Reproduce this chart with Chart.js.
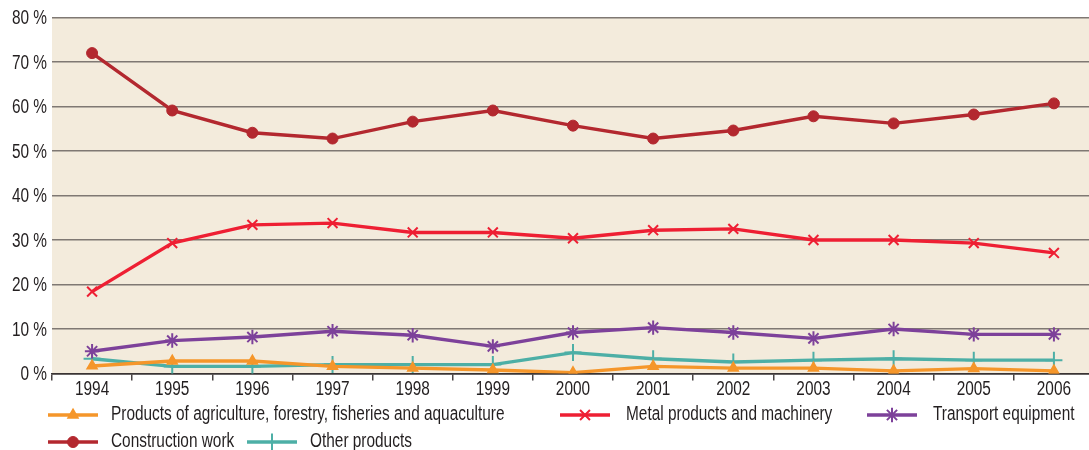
<!DOCTYPE html>
<html>
<head>
<meta charset="utf-8">
<script src="https://cdn.jsdelivr.net/npm/chart.js@4/dist/chart.umd.min.js"></script>
<style>
  html, body { margin: 0; padding: 0; background: #ffffff; overflow: hidden; }
  #wrap { width: 1094px; height: 450px; }
</style>
</head>
<body>
<div id="wrap"><canvas id="c" width="1094" height="450"></canvas></div>
<script>
const years = ['1994','1995','1996','1997','1998','1999','2000','2001','2002','2003','2004','2005','2006'];
const agriculture = [1.7, 2.8, 2.8, 1.6, 1.2, 0.8, 0.2, 1.6, 1.2, 1.2, 0.6, 1.1, 0.6];
const metal = [18.4, 29.3, 33.4, 33.8, 31.7, 31.7, 30.4, 32.2, 32.5, 30.0, 30.0, 29.3, 27.1];
const transport = [5.0, 7.4, 8.2, 9.5, 8.6, 6.1, 9.2, 10.3, 9.2, 7.9, 10.0, 8.8, 8.8];
const construction = [72.0, 59.1, 54.1, 52.8, 56.6, 59.1, 55.7, 52.8, 54.6, 57.8, 56.2, 58.2, 60.7];
const other = [3.3, 1.6, 1.6, 2.0, 2.0, 2.0, 4.7, 3.3, 2.6, 3.0, 3.3, 3.0, 3.0];
const yTicks = [0, 10, 20, 30, 40, 50, 60, 70, 80];

const FONT = "'Liberation Sans', Arial, sans-serif";
const FONT_SIZE = 20;
const SQUEEZE = 0.77;   // horizontal condensing of text to mimic a narrow face
const TEXT = '#231f20';

const colors = {
  agri: '#f5962a',
  metal: '#ee1f33',
  transport: '#7d419a',
  construction: '#b3282f',
  other: '#4dafa6'
};

function ds(label, data, color, pointStyle, radius, borderW) {
  return {
    label, data,
    borderColor: color, backgroundColor: color,
    pointBackgroundColor: color, pointBorderColor: color,
    borderWidth: 3.4, pointStyle, pointRadius: radius, pointHoverRadius: radius,
    pointBorderWidth: borderW, tension: 0, fill: false
  };
}

const datasets = [
  ds('Products of agriculture, forestry, fisheries and aquaculture', agriculture, colors.agri, 'triangle', 5.8, 1.5),
  ds('Metal products and machinery', metal, colors.metal, 'crossRot', 7, 2),
  ds('Transport equipment', transport, colors.transport, 'star', 7.2, 2),
  ds('Construction work', construction, colors.construction, 'circle', 5.5, 1),
  ds('Other products', other, colors.other, 'cross', 8.5, 2)
];

// legend layout (positions only)
const legendPos = [
  { x: 48, y: 415, tx: 111 },
  { x: 560, y: 415, tx: 626 },
  { x: 867, y: 415, tx: 933 },
  { x: 48, y: 442, tx: 111 },
  { x: 247, y: 442, tx: 310 }
];

function squeezedText(ctx, text, x, y, align) {
  ctx.save();
  ctx.translate(x, y);
  ctx.scale(SQUEEZE, 1);
  ctx.textAlign = align;
  ctx.textBaseline = 'middle';
  ctx.fillText(text, 0, 0);
  ctx.restore();
}

const bgPlugin = {
  id: 'bg',
  beforeDraw(chart) {
    const { ctx, chartArea: a } = chart;
    ctx.save();
    ctx.fillStyle = '#f3ebdc';
    ctx.fillRect(a.left, a.top, a.right - a.left, a.bottom - a.top);
    ctx.restore();
  }
};

const labelPlugin = {
  id: 'labels',
  afterDraw(chart) {
    const ctx = chart.ctx;
    const xs = chart.scales.x, ys = chart.scales.y;
    ctx.save();
    ctx.fillStyle = TEXT;
    ctx.font = FONT_SIZE + 'px ' + FONT;
    ys.ticks.forEach(t => {
      squeezedText(ctx, t.value + ' %', xs.left - 5, ys.getPixelForValue(t.value) + 1, 'right');
    });
    chart.data.labels.forEach((lab, i) => {
      squeezedText(ctx, lab, xs.getPixelForValue(i), xs.top + 15.5, 'center');
    });
    ctx.restore();
  }
};

const legendPlugin = {
  id: 'customLegend',
  afterDraw(chart) {
    const ctx = chart.ctx;
    ctx.save();
    chart.data.datasets.forEach((d, i) => {
      const p = legendPos[i];
      ctx.strokeStyle = d.borderColor;
      ctx.lineWidth = 3.5;
      ctx.beginPath();
      ctx.moveTo(p.x, p.y);
      ctx.lineTo(p.x + 50, p.y);
      ctx.stroke();
      const opts = {
        pointStyle: d.pointStyle, radius: d.pointRadius, rotation: 0,
        borderWidth: d.pointBorderWidth
      };
      ctx.fillStyle = d.pointBackgroundColor;
      ctx.strokeStyle = d.pointBorderColor;
      ctx.lineWidth = d.pointBorderWidth;
      if (Chart.helpers && Chart.helpers.drawPoint) {
        Chart.helpers.drawPoint(ctx, opts, p.x + 25, p.y);
      }
      ctx.fillStyle = TEXT;
      ctx.font = FONT_SIZE + 'px ' + FONT;
      squeezedText(ctx, d.label, p.tx, p.y - 1, 'left');
    });
    ctx.restore();
  }
};

new Chart(document.getElementById('c'), {
  type: 'line',
  data: { labels: years, datasets },
  plugins: [bgPlugin, labelPlugin, legendPlugin],
  options: {
    responsive: false,
    animation: false,
    layout: { autoPadding: false, padding: { top: 17.5, right: 0, left: 0, bottom: 0 } },
    plugins: { legend: { display: false }, tooltip: { enabled: false } },
    scales: {
      x: {
        type: 'category',
        offset: true,
        afterFit(s) { s.height = 76.5; },
        grid: {
          offset: true, drawOnChartArea: false, drawTicks: true,
          tickLength: 7, tickColor: '#4a4444', lineWidth: 1.5
        },
        border: { display: true, color: '#3a3434', width: 1.5 },
        ticks: { display: false, autoSkip: false, maxRotation: 0 }
      },
      y: {
        min: 0, max: 80,
        afterFit(s) { s.width = 52; },
        afterBuildTicks(s) { s.ticks = yTicks.map(v => ({ value: v })); },
        grid: {
          drawTicks: false,
          color: (c) => (c.tick && c.tick.value === 0) ? '#3a3434' : '#7f7873',
          lineWidth: 1.5
        },
        border: { display: false },
        ticks: { display: false }
      }
    }
  }
});
</script>
</body>
</html>
